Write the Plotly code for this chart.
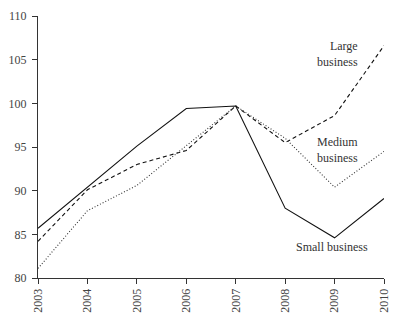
import plotly.graph_objects as go

years = [2003, 2004, 2005, 2006, 2007, 2008, 2009, 2010]
small = [85.7, 90.4, 95.1, 99.4, 99.7, 88.0, 84.6, 89.1]
medium = [81.1, 87.7, 90.6, 95.2, 99.7, 96.0, 90.4, 94.5]
large = [84.2, 90.1, 93.0, 94.6, 99.7, 95.5, 98.6, 106.6]
y_ticks = [80, 85, 90, 95, 100, 105, 110]

FONT = "Liberation Serif"
fig = go.Figure()
fig.add_trace(go.Scatter(x=years, y=small, mode="lines", line=dict(color="#111", width=1.1)))
fig.add_trace(go.Scatter(x=years, y=large, mode="lines", line=dict(color="#111", width=1.1, dash="4px,3px")))
fig.add_trace(go.Scatter(x=years, y=medium, mode="lines", line=dict(color="#333", width=1.1, dash="1px,2px")))

fig.add_annotation(x=2009.52, y=105.6, xref="x", yref="y", text="Large<br>business",
                   showarrow=False, xanchor="right", yanchor="middle", align="right")
fig.add_annotation(x=2009.52, y=94.7, xref="x", yref="y", text="Medium<br>business",
                   showarrow=False, xanchor="right", yanchor="middle", align="right")
fig.add_annotation(x=2008.95, y=83.5, xref="x", yref="y", text="Small business",
                   showarrow=False, xanchor="center", yanchor="middle")

fig.update_layout(
    width=400, height=322,
    margin=dict(l=36, r=10, t=9, b=43),
    paper_bgcolor="white", plot_bgcolor="white",
    showlegend=False,
    font=dict(family=FONT, size=12, color="#333"),
    xaxis=dict(range=[2003, 2010], tickvals=years, ticktext=[str(y) for y in years],
               tickangle=-90, showgrid=False, zeroline=False, showline=True,
               linecolor="#333", linewidth=1, ticks="outside", ticklen=5,
               tickcolor="#333", tickfont=dict(family=FONT, size=12, color="#444")),
    yaxis=dict(range=[80, 110], tickvals=y_ticks, showgrid=False, zeroline=False,
               showline=True, linecolor="#333", linewidth=1, ticks="outside",
               ticklen=5, tickcolor="#333", ticklabelstandoff=3,
               tickfont=dict(family=FONT, size=12, color="#444")),
)
fig.write_html("out.html")
